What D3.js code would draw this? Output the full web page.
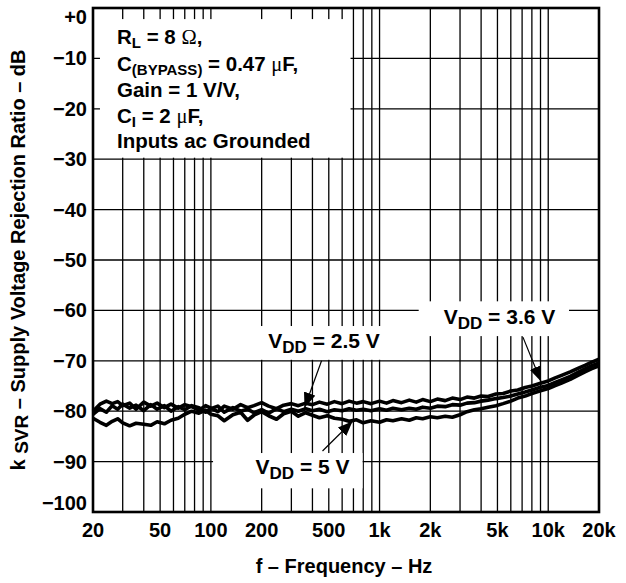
<!doctype html>
<html>
<head>
<meta charset="utf-8">
<title>Supply voltage rejection ratio vs frequency</title>
<script src="https://d3js.org/d3.v7.min.js"></script>
<style>
  body { margin: 0; background: #fff; }
  svg text { font-family: "Liberation Sans", Arial, Helvetica, sans-serif; font-weight: bold; fill: #000; }
</style>
</head>
<body>
<div id="plot"></div>
<script>
// frequency points (Hz) shared by the three traces
const freq = [20,22,24,26,28,30,33,36,40,44,48,53,58,64,70,77,85,93,100,110,120,135,150,165,180,200,
  220,245,270,300,330,365,400,440,490,540,600,660,730,800,890,1000,1100,1200,1350,1500,1650,1800,2000,
  2200,2450,2700,3000,3300,3650,4000,4400,4900,5400,6000,6600,7300,8000,8900,10000,11000,12000,13500,
  15000,16500,18000,20000];

// kSVR in dB
const vdd25 = [-80.0,-78.6,-78.0,-78.5,-78.1,-78.9,-78.4,-79.6,-78.2,-79.0,-78.4,-79.3,-78.6,-79.4,-78.7,
  -79.1,-79.8,-78.9,-79.4,-80.1,-79.0,-79.6,-78.7,-79.3,-78.9,-78.3,-79.0,-79.5,-78.8,-78.5,-78.9,-78.4,
  -78.7,-78.2,-78.6,-78.1,-78.5,-78.0,-78.4,-78.1,-78.5,-78.0,-78.4,-77.9,-78.3,-77.8,-78.2,-77.7,-78.1,
  -77.6,-77.9,-77.4,-77.7,-77.2,-77.4,-77.0,-77.1,-76.6,-76.5,-76.0,-75.8,-75.3,-75.0,-74.5,-74.0,-73.4,
  -72.9,-72.2,-71.5,-70.9,-70.3,-69.7];
const vdd36 = [-80.6,-79.5,-80.2,-78.9,-79.6,-78.6,-79.4,-78.8,-79.9,-78.7,-79.6,-78.9,-80.0,-79.1,-79.7,
  -78.9,-79.3,-80.2,-79.5,-79.0,-80.2,-79.3,-80.0,-79.6,-80.3,-79.7,-80.4,-79.5,-80.1,-79.6,-80.0,-79.5,
  -79.9,-79.6,-80.1,-79.7,-79.9,-79.5,-79.8,-79.6,-79.9,-79.5,-79.8,-79.4,-79.7,-79.4,-79.6,-79.2,-79.4,
  -79.0,-79.1,-78.7,-78.8,-78.4,-78.3,-78.0,-77.8,-77.5,-77.3,-77.0,-76.6,-76.2,-75.8,-75.3,-74.9,-74.3,
  -73.8,-73.1,-72.3,-71.6,-71.0,-70.4];
const vdd5 = [-81.4,-82.2,-82.8,-82.0,-81.5,-82.3,-82.9,-82.4,-82.6,-82.8,-82.1,-82.5,-81.8,-81.4,-80.6,
  -80.0,-80.4,-79.8,-80.6,-80.9,-81.9,-80.7,-80.2,-81.8,-80.8,-80.1,-80.9,-81.6,-80.5,-80.0,-81.0,-80.3,
  -80.8,-81.3,-80.9,-81.4,-81.6,-82.0,-81.7,-82.3,-81.9,-82.2,-81.7,-81.9,-81.5,-81.8,-81.3,-81.5,-81.1,
  -81.3,-81.0,-81.2,-80.7,-80.1,-79.7,-79.5,-79.2,-78.9,-78.5,-78.0,-77.4,-77.0,-76.5,-76.0,-75.5,-74.9,
  -74.4,-73.7,-72.9,-72.2,-71.6,-71.0];

// axis ticks
const xTickVals = [20,50,100,200,500,1000,2000,5000,10000,20000];
const xTickLabels = ["20","50","100","200","500","1k","2k","5k","10k","20k"];
const yTickVals = [0,-10,-20,-30,-40,-50,-60,-70,-80,-90,-100];
const yTickLabels = ["+0","\u221210","\u221220","\u221230","\u221240","\u221250","\u221260","\u221270","\u221280","\u221290","\u2212100"];

// callouts: label box (f, dB corners), text start, arrow from -> to
const callouts = [
  {parts:[["V"],["DD",1],[" = 2.5 V"]], box:[156,1196,-63.1,-69.8], text:[219,-67.4], arrow:[453,-70.0,359,-79.3]},
  {parts:[["V"],["DD",1],[" = 3.6 V"]], box:[1706,13280,-58.2,-65.1], text:[2400,-62.7], arrow:[7080,-65.3,9060,-74.1]},
  {parts:[["V"],["DD",1],[" = 5 V"]], box:[103,793,-88.3,-95.3], text:[184,-92.5], arrow:[459,-87.9,692,-82.0]}
];

const W = 626, H = 583;
const svg = d3.select("#plot").append("svg").attr("width", W).attr("height", H);

const x = d3.scaleLog().domain([20, 20000]).range([93, 599]);
const y = d3.scaleLinear().domain([-100, 0]).range([512, 8]);

// grid
const gridX = x.ticks().filter(d => d > 20 && d < 20000);
svg.append("g").selectAll("line").data(gridX).join("line")
  .attr("x1", d => x(d)).attr("x2", d => x(d))
  .attr("y1", y(0)).attr("y2", y(-100))
  .attr("stroke", "#000").attr("stroke-width", 1.3);
svg.append("g").selectAll("line").data(yTickVals.filter(d => d < 0 && d > -100)).join("line")
  .attr("x1", x(20)).attr("x2", x(20000))
  .attr("y1", d => y(d)).attr("y2", d => y(d))
  .attr("stroke", "#000").attr("stroke-width", 1.3);

// white panels that hide the grid
const legendBox = [22, 673, -2.2, -29.7];
const boxes = [legendBox].concat(callouts.map(c => c.box));
svg.append("g").selectAll("rect").data(boxes).join("rect")
  .attr("x", d => x(d[0])).attr("width", d => x(d[1]) - x(d[0]))
  .attr("y", d => y(d[2])).attr("height", d => y(d[3]) - y(d[2]))
  .attr("fill", "#fff");

// traces
const line = d3.line().x(d => x(d[0])).y(d => y(d[1]));
[vdd25, vdd36, vdd5].forEach(s => {
  svg.append("path")
    .datum(freq.map((f, i) => [f, s[i]]))
    .attr("d", line)
    .attr("fill", "none").attr("stroke", "#000")
    .attr("stroke-width", 3.6).attr("stroke-linejoin", "round");
});

// frame
svg.append("rect")
  .attr("x", x(20)).attr("y", y(0))
  .attr("width", x(20000) - x(20)).attr("height", y(-100) - y(0))
  .attr("fill", "none").attr("stroke", "#000").attr("stroke-width", 2.6);

// tick labels (end labels nudged inside like the original)
svg.append("g").selectAll("text").data(xTickVals).join("text")
  .attr("x", d => x(d)).attr("y", 537)
  .attr("text-anchor", "middle").style("font-size", "20px")
  .text((d, i) => xTickLabels[i]);
svg.append("g").selectAll("text").data(yTickVals).join("text")
  .attr("x", 87).attr("y", d => y(d) + 7 + (d === 0 ? 9 : d === -100 ? -9 : 0))
  .attr("text-anchor", "end").style("font-size", "20px")
  .text((d, i) => yTickLabels[i]);

// axis titles
svg.append("text")
  .attr("x", 344).attr("y", 573).attr("text-anchor", "middle")
  .style("font-size", "20px").text("f \u2013 Frequency \u2013 Hz");
const yt = svg.append("text")
  .attr("transform", "translate(25," + ((y(0) + y(-100)) / 2) + ") rotate(-90)")
  .attr("text-anchor", "middle").style("font-size", "20px");
yt.append("tspan").text("k ");
yt.append("tspan").attr("dy", 3).style("font-size", "19px").text("SVR");
yt.append("tspan").attr("dy", -3).text(" \u2013 Supply Voltage Rejection Ratio \u2013 dB");

// helper for text with subscripts / symbol glyphs
function rich(sel, parts, subSize, shift) {
  parts.forEach((p, i) => {
    const t = sel.append("tspan").text(p[0]);
    if (p[1] === 1) t.attr("dy", shift).style("font-size", subSize);
    if (p[1] === 2) t.style("font-family", "'Liberation Serif', 'Times New Roman', serif").style("font-weight", "normal");
    if (i > 0 && parts[i - 1][1] === 1) t.attr("dy", -shift);
  });
}

// legend text block
const legendLines = [
  [["R"],["L",1],[" = 8 "],["\u03A9",2],[","]],
  [["C"],["(BYPASS)",1],[" = 0.47 "],["\u03BC",2],["F,"]],
  [["Gain = 1 V/V,"]],
  [["C"],["I",1],[" = 2 "],["\u03BC",2],["F,"]],
  [["Inputs ac Grounded"]]
];
const legendBase = [44, 71, 97, 123, 148];
legendLines.forEach((parts, i) => {
  const t = svg.append("text").attr("x", 117).attr("y", legendBase[i]).style("font-size", "20.5px");
  rich(t, parts, "15px", 4);
});

// callouts
svg.append("defs").append("marker")
  .attr("id", "head").attr("markerUnits", "userSpaceOnUse")
  .attr("markerWidth", 16).attr("markerHeight", 12)
  .attr("refX", 15).attr("refY", 6).attr("orient", "auto")
  .append("path").attr("d", "M0,0 L15,6 L0,12 Z").attr("fill", "#000");

callouts.forEach(c => {
  svg.append("line")
    .attr("x1", x(c.arrow[0])).attr("y1", y(c.arrow[1]))
    .attr("x2", x(c.arrow[2])).attr("y2", y(c.arrow[3]))
    .attr("stroke", "#000").attr("stroke-width", 1.2)
    .attr("marker-end", "url(#head)");
  const t = svg.append("text").attr("x", x(c.text[0])).attr("y", y(c.text[1])).style("font-size", "21px");
  rich(t, c.parts, "17px", 5);
});
</script>
</body>
</html>
